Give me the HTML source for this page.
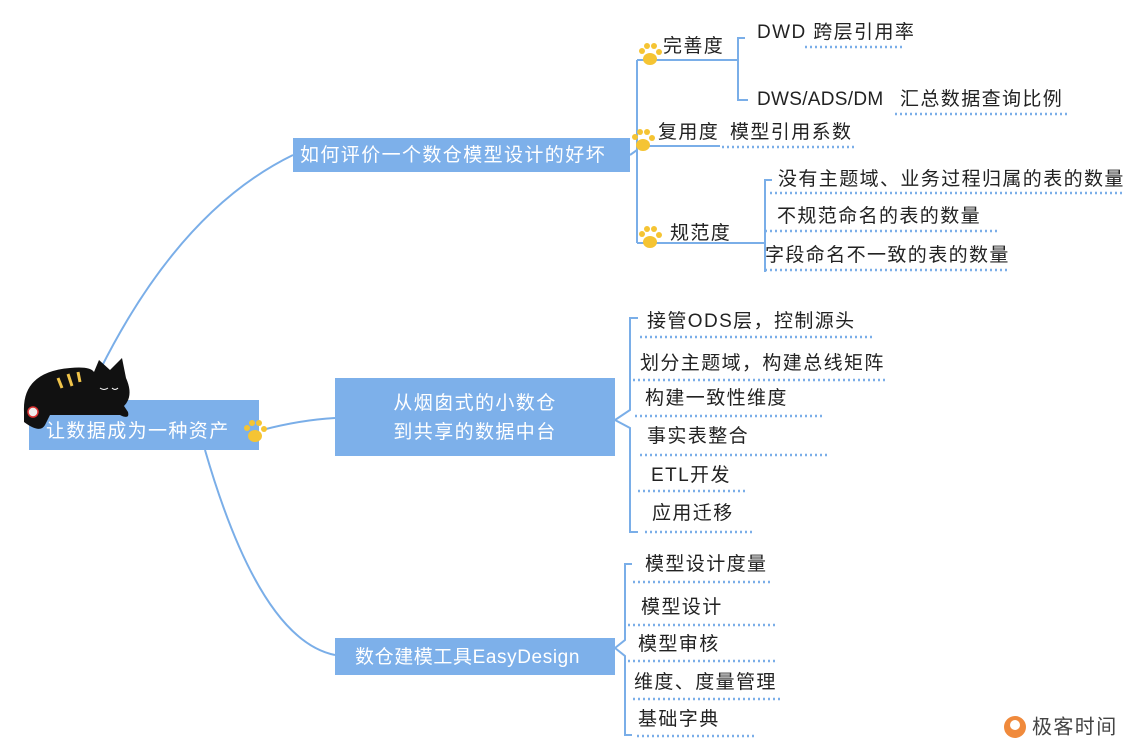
<!DOCTYPE html>
<html><head><meta charset="utf-8"><style>
body{margin:0;background:#fff}
svg text{font-family:"Liberation Sans","Noto Sans CJK SC",sans-serif;font-size:19px;fill:#222;dominant-baseline:middle;letter-spacing:1.4px}
</style></head><body>
<svg width="1142" height="750" viewBox="0 0 1142 750" xmlns="http://www.w3.org/2000/svg">
<defs>
<g id="paw"><ellipse cx="0" cy="4" rx="7" ry="6" fill="#f5c433"/><circle cx="-8" cy="-4" r="3" fill="#f5c433"/><circle cx="-3" cy="-9" r="3" fill="#f5c433"/><circle cx="4" cy="-9" r="3" fill="#f5c433"/><circle cx="9" cy="-3" r="3" fill="#f5c433"/></g>
</defs>
<g fill="none" stroke="#7aaee8" stroke-width="2">
<path d="M100 370 Q180 210 293 155"/>
<path d="M262 430 Q300 420 335 418"/>
<path d="M205 450 Q260 640 335 655"/>
<path d="M630 155 L637 150 M637 60 L637 243 M637 60 L738 60 M637 146 L720 146 M637 243 L757 243"/>
<path d="M738 60 L738 38 L745 38 M738 60 L738 100 L748 100"/>
<path d="M757 243 L765 243 L765 180 L772 180 M765 243 L765 272"/>
<path d="M615 420 L630 410 L630 318 L638 318 M615 420 L630 428 L630 532 L638 532"/>
<path d="M615 648 L625 640 L625 564 L632 564 M615 648 L625 656 L625 735 L632 735"/>
</g>
<g fill="none" stroke="#7aaee8" stroke-width="2.5" stroke-dasharray="2 3">
<path d="M805 47H905 M895 114H1068 M722 147H855 M770 193H1125 M765 231H1000 M765 270H1010"/>
<path d="M640 337H873 M633 380H887 M635 416H823 M640 455H830 M638 491H746 M645 532H754"/>
<path d="M633 582H770 M628 625H775 M628 661H775 M633 699H780 M637 736H755"/>
</g>
<rect x="29" y="400" width="230" height="50" fill="#7db0ea"/>
<rect x="293" y="138" width="337" height="34" fill="#7db0ea"/>
<rect x="335" y="378" width="280" height="78" fill="#7db0ea"/>
<rect x="335" y="638" width="280" height="37" fill="#7db0ea"/>
<path d="M24 412 Q22 372 70 368 Q90 366 94 372 L99 360 L110 370 L122 358 L126 378 Q134 396 124 406 L128 412 Q130 420 120 415 L50 415 L45 425 Q40 434 24 422 Z" fill="#111"/>
<path d="M58 378 L62 388 M68 374 L72 386 M78 372 L80 382" stroke="#f0c44a" stroke-width="3"/>
<circle cx="33" cy="412" r="5" fill="#eee" stroke="#d33" stroke-width="1.5"/>
<path d="M100 388 Q104 391 108 388 M112 388 Q115 391 118 388" stroke="#fff" stroke-width="1" fill="none"/>
<text x="46" y="432" style="fill:#fff;font-size:19px">让数据成为一种资产</text>
<use href="#paw" x="255" y="432"/>
<text x="300" y="156" style="fill:#fff">如何评价一个数仓模型设计的好坏</text>
<text x="475" y="404" text-anchor="middle" style="fill:#fff">从烟囱式的小数仓</text>
<text x="475" y="433" text-anchor="middle" style="fill:#fff">到共享的数据中台</text>
<text x="355" y="658" style="fill:#fff;letter-spacing:0.6px">数仓建模工具EasyDesign</text>
<use href="#paw" x="650" y="55"/><use href="#paw" x="643" y="141"/><use href="#paw" x="650" y="238"/>
<text x="663" y="47">完善度</text>
<text x="757" y="33">DWD 跨层引用率</text>
<text x="757" y="100" style="letter-spacing:0.3px">DWS/ADS/DM</text>
<text x="900" y="100">汇总数据查询比例</text>
<text x="658" y="133">复用度</text>
<text x="730" y="133">模型引用系数</text>
<text x="670" y="234">规范度</text>
<text x="778" y="180">没有主题域、业务过程归属的表的数量</text>
<text x="777" y="217">不规范命名的表的数量</text>
<text x="765" y="256">字段命名不一致的表的数量</text>
<text x="647" y="322">接管ODS层，控制源头</text>
<text x="640" y="364">划分主题域，构建总线矩阵</text>
<text x="645" y="399">构建一致性维度</text>
<text x="647" y="437">事实表整合</text>
<text x="651" y="476">ETL开发</text>
<text x="652" y="514">应用迁移</text>
<text x="645" y="565">模型设计度量</text>
<text x="641" y="608">模型设计</text>
<text x="638" y="645">模型审核</text>
<text x="634" y="683">维度、度量管理</text>
<text x="638" y="720">基础字典</text>
<circle cx="1015" cy="727" r="11" fill="#f08a3c"/><circle cx="1015" cy="725" r="5" fill="#fff"/>
<text x="1032" y="728" style="font-size:20px;fill:#444">极客时间</text>
</svg>
</body></html>
